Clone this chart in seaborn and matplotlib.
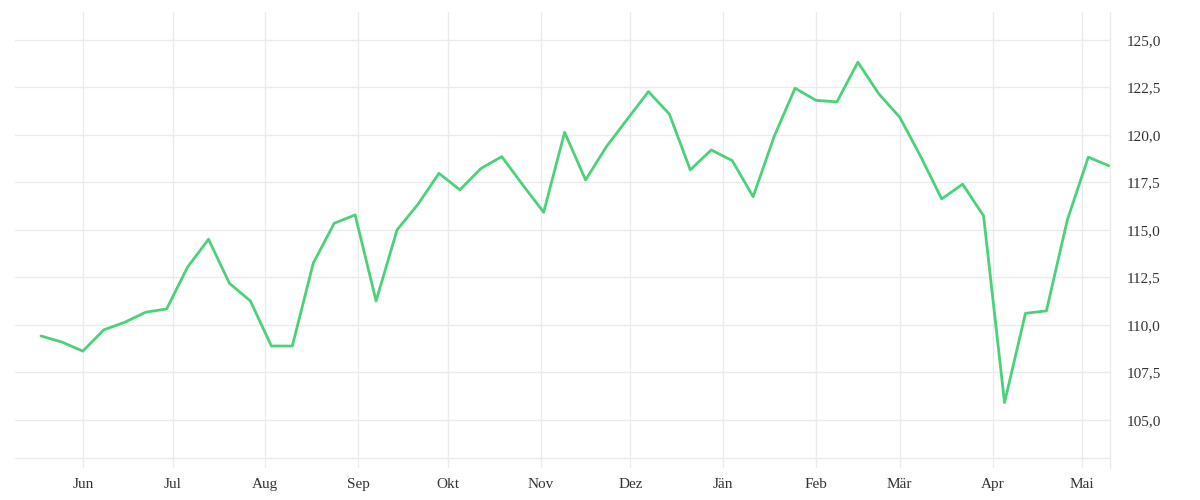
import matplotlib
matplotlib.use("Agg")
import matplotlib.pyplot as plt
import matplotlib.dates as mdates
from matplotlib.ticker import FuncFormatter, FixedLocator
import seaborn as sns
import pandas as pd
import numpy as np

# ---- data ----
start_date = "2022-05-18"
n_weeks = 52
values = [
    109.42, 109.10, 108.62, 109.74, 110.14, 110.67, 110.84, 113.04, 114.51, 112.19,
    111.26, 108.89, 108.89, 113.25, 115.35, 115.79, 111.26, 115.00, 116.35, 117.98,
    117.11, 118.23, 118.86, 117.37, 115.93, 120.14, 117.63, 119.39, 120.84, 122.28,
    121.10, 118.16, 119.21, 118.65, 116.75, 119.91, 122.46, 121.82, 121.74, 123.83,
    122.16, 120.93, 118.86, 116.63, 117.41, 115.74, 105.91, 110.61, 110.74, 115.53,
    118.83, 118.37,
]
month_labels = ["Jän", "Feb", "Mär", "Apr", "Mai", "Jun",
                "Jul", "Aug", "Sep", "Okt", "Nov", "Dez"]
y_ticks = [105.0, 107.5, 110.0, 112.5, 115.0, 117.5, 120.0, 122.5, 125.0]

dates = pd.date_range(start_date, periods=n_weeks, freq="7D")
df = pd.DataFrame({"date": dates, "value": values})

sns.set_theme(style="white")
plt.rcParams["font.family"] = ["Liberation Serif", "DejaVu Serif"]

fig = plt.figure(figsize=(12, 5), dpi=100)
ax = fig.add_axes([15 / 1200, 1 - 468 / 500, (1110 - 15) / 1200, (468 - 12) / 500])

grid_color = "#ebebeb"
sns.lineplot(data=df, x="date", y="value", ax=ax, color="#4cd17b", linewidth=2.0)

ax.set_xlim(pd.Timestamp("2022-05-09 08:00"), dates[-1] + pd.Timedelta(hours=6))
ax.set_ylim(102.47, 126.47)

ax.xaxis.set_major_locator(mdates.MonthLocator())
ax.xaxis.set_major_formatter(
    FuncFormatter(lambda x, pos: month_labels[mdates.num2date(x).month - 1]))
ax.yaxis.set_major_locator(FixedLocator(y_ticks))
ax.yaxis.set_major_formatter(FuncFormatter(lambda v, pos: f"{v:.1f}".replace(".", ",")))
ax.yaxis.tick_right()

ax.grid(True, color=grid_color, linewidth=1.0)
ax.axhline(103.0, color=grid_color, linewidth=1.0, zorder=0)
ax.set_axisbelow(True)

for s in ["top", "left", "bottom"]:
    ax.spines[s].set_visible(False)
ax.spines["right"].set_visible(True)
ax.spines["right"].set_color(grid_color)
ax.spines["right"].set_linewidth(1.0)

ax.tick_params(axis="x", length=0, pad=7, labelsize=11, labelcolor="#333333")
ax.tick_params(axis="y", length=0, pad=12, labelsize=11, labelcolor="#333333")
for lbl in ax.get_xticklabels():
    lbl.set_x(lbl.get_position()[0])
ax.set_xlabel("")
ax.set_ylabel("")

fig.savefig("out.png", dpi=100, facecolor="white")
